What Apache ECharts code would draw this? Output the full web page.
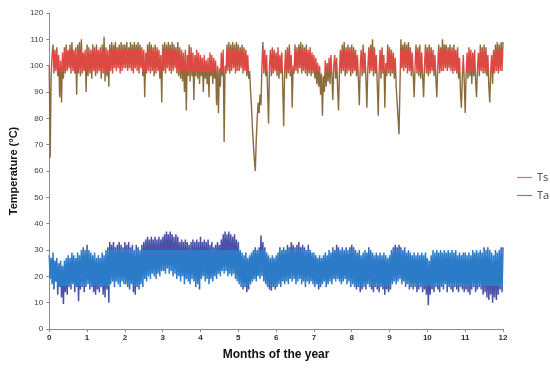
<!DOCTYPE html>
<html><head><meta charset="utf-8">
<script src="https://cdn.jsdelivr.net/npm/echarts@6/dist/echarts.min.js"></script>
<style>html,body{margin:0;padding:0;background:#fff}#c{width:550px;height:369px}</style>
</head><body><div id="c"></div>
<script>
// sampling step of the record (months): 40 readings per month
const stepMonths = 0.025;
const monthTicks = ['0','1','2','3','4','5','6','7','8','9','10','11','12'];
const seriesNames = ['Ts', 'Ta'];
// Ts readings (°C)
const tsValues = [
 100,65,96,104,108,97,106,98,107,96,104,88,102,86,105,95,107,97,108,98,106,99,108,97,109,98,106,97,107,89,108,97,109,96,110,97,105,98,106,90,
 108,96,107,97,106,95,108,98,107,96,108,97,106,98,107,95,108,97,111,94,107,96,106,92,108,98,109,97,108,99,109,98,107,99,108,97,109,98,108,99,
 108,99,109,98,107,99,109,98,108,97,109,99,108,98,109,97,108,99,107,96,106,88,105,97,108,98,109,97,108,98,107,96,108,97,107,98,106,95,104,86,
 108,98,109,97,108,99,109,98,108,97,109,98,108,99,107,97,109,96,107,95,106,94,105,90,106,83,104,96,108,94,107,96,105,87,104,96,106,95,105,93,
 104,96,103,90,104,95,102,93,103,88,105,96,104,93,103,95,102,85,100,82,99,92,105,96,106,71,100,97,108,98,109,97,108,98,109,99,108,97,109,98,
 108,98,107,99,108,97,107,98,106,96,104,95,98,90,84,76,70,64,60,72,80,86,82,89,85,100,109,97,106,96,104,90,78,100,106,96,107,97,106,98,
 105,96,107,95,104,97,105,92,77,98,106,95,107,97,108,96,104,84,100,97,108,98,107,97,108,99,109,97,108,98,107,97,108,96,106,97,107,96,105,97,
 104,95,103,93,101,92,100,89,97,81,96,90,102,92,101,94,103,93,104,96,87,100,104,95,103,92,83,98,106,97,108,98,109,96,107,97,108,98,107,96,
 108,97,107,98,106,96,104,95,85,100,106,96,108,97,105,95,84,99,107,97,108,98,110,96,107,97,104,93,81,98,106,95,107,97,104,84,101,96,108,97,
 107,96,106,97,105,95,103,92,86,80,74,92,110,99,108,98,109,99,108,97,109,98,107,96,105,97,88,100,108,97,107,96,108,95,105,96,88,100,108,97,
 107,96,108,97,107,98,106,96,104,95,88,100,108,97,107,98,110,98,108,99,108,98,107,99,108,98,107,97,108,98,106,97,107,95,103,90,84,96,104,94,
 82,97,105,95,107,96,106,93,105,96,106,94,88,99,105,96,108,98,107,97,108,97,107,96,104,92,86,98,104,93,106,97,108,98,109,97,108,98,109,98,
 109
];
// Ta readings (°C)
const taValues = [
 28,19,27,17,29,15,26,18,27,13,25,16,26,12,24,9.5,26,14,27,13,28,16,27,15,29,17,28,14,27,16,29,10.5,28,15,30,16,31,14,30,16,
 32,17,30,15,29,16,28,14,29,13,27,15,28,14,27,16,29,13,28,12,30,15,31,10,33,17,32,18,33,16,31,18,32,17,33,16,32,18,31,17,
 33,17,32,16,33,15,31,17,32,14,30,13,32,16,31,15,30,17,32,16,33,19,34,18,35,20,34,19,35,21,34,20,35,19,34,21,35,20,34,22,
 35,22,36,21,37,23,36,21,37,22,36,20,35,21,36,19,35,20,33,18,34,20,33,17,34,19,33,18,32,17,33,19,34,18,33,16,34,17,33,15,
 35,19,33,20,34,18,33,19,34,17,32,19,33,18,31,20,32,19,33,21,32,20,34,22,36,21,37,22,36,20,37,21,36,20,35,21,36,19,34,18,
 33,17,30,16,29,15,28,16,29,14,27,15,28,17,29,18,30,19,31,18,30,20,31,19,35.5,20,33,18,31,17,29,16,28,15,27,14.5,28,16,27,15,
 28,16,29,17,31,16,30,18,31,17,30,18,32,17,31,19,33,18,32,19,31,17,32,18,33,19,31,17,32,18,31,16,30,18,32,17,30,18,29,17,
 29,16,28,17,27,15,28,16,27,17,28,18,29,16,28,17,30,18,29,17,31,19,30,18,32,19,31,18,30,17,31,18,30,19,31,17,30,18,31,16,
 32,17,31,16,30,15,29,16,30,14,28,15,29,16,30,15,29,17,31,16,30,15,29,14,28,16,29,15,28,14,29,16,28,15,29,13,28,15,27,14,
 28,15,30,17,31,18,32,17,31,18,32,19,31,17,30,18,31,16,29,17,30,15,29,16,28,15,29,16,28,14,29,15,28,16,29,14,28,15,29,13,
 27,9,26,13,28,15,30,14,29,16,30,15,29,14,30,16,29,15,30,17,29,14,30,16,29,15,30,14,29,16,30,15,28,14,29,16,28,15,29,14,
 29,15,28,14,29,13,28,15,30,16,29,14,30,15,29,16,30,15,29,13,31,14,30,12,31,11,30,13,29,10,28,12,30,11,29,13,30,15,31,14,
 31
];

const toPairs = vals => vals.map((v, i) => [+(i * stepMonths).toFixed(3), v]);

const chart = echarts.init(document.getElementById('c'), null, {renderer: 'canvas'});
chart.setOption({
  animation: false,
  backgroundColor: '#ffffff',
  grid: {left: 41, right: 47, top: 13, bottom: 40},
  legend: {
    orient: 'vertical', left: 517, top: 172, itemGap: 7, padding: 0,
    itemWidth: 15, itemHeight: 12,
    textStyle: {color: '#404040', fontSize: 11, fontFamily: 'Open Sans'},
    data: [
      {name: 'Ts', icon: 'path://M0,5 L20,5 L20,6.6 L0,6.6 Z', itemStyle: {color: '#a58a66'}},
      {name: 'Ta', icon: 'path://M0,5 L20,5 L20,6.6 L0,6.6 Z', itemStyle: {color: '#6f7fbf'}}
    ]
  },
  visualMap: [
    {type: 'piecewise', show: false, seriesIndex: 0, dimension: 1,
     pieces: [{lt: 97.5, color: '#8a6b3c'}, {gte: 97.5, lte: 106, color: '#db4a42'}, {gt: 106, color: '#8a6b3c'}]},
    {type: 'piecewise', show: false, seriesIndex: 1, dimension: 1,
     pieces: [{lt: 16.5, color: '#4a52a8'}, {gte: 16.5, lte: 30, color: '#2b7bc8'}, {gt: 30, color: '#4a52a8'}]}
  ],
  xAxis: {
    type: 'value', min: 0, max: 12, interval: 1,
    name: 'Months of the year', nameLocation: 'middle', nameGap: 20,
    nameTextStyle: {fontFamily: 'Liberation Sans', fontWeight: 'bold', fontSize: 12, color: '#111'},
    axisLine: {lineStyle: {color: '#8c8c8c', width: 1}},
    axisTick: {show: true, length: 3, lineStyle: {color: '#8c8c8c'}},
    axisLabel: {color: '#303030', fontSize: 8, fontWeight: 'bold', fontFamily: 'Liberation Sans', margin: 5,
      formatter: v => monthTicks[Math.round(v)]},
    splitLine: {show: false}
  },
  yAxis: {
    type: 'value', min: 0, max: 120, interval: 10,
    name: 'Temperature (°C)', nameLocation: 'middle', nameGap: 24,
    nameTextStyle: {fontFamily: 'Liberation Sans', fontWeight: 'bold', fontSize: 11, color: '#111'},
    axisLine: {show: true, lineStyle: {color: '#8c8c8c', width: 1}},
    axisTick: {show: true, length: 3, lineStyle: {color: '#8c8c8c'}},
    axisLabel: {color: '#404040', fontSize: 8, fontFamily: 'Liberation Sans', margin: 6},
    splitLine: {show: false}
  },
  series: [
    {name: seriesNames[0], type: 'line', data: toPairs(tsValues), showSymbol: false, symbol: 'none',
     lineStyle: {width: 1.4}, itemStyle: {color: '#a58a66'}, z: 2},
    {name: seriesNames[1], type: 'line', data: toPairs(taValues), showSymbol: false, symbol: 'none',
     lineStyle: {width: 1.5}, itemStyle: {color: '#6f7fbf'}, z: 2}
  ]
});
</script></body></html>
